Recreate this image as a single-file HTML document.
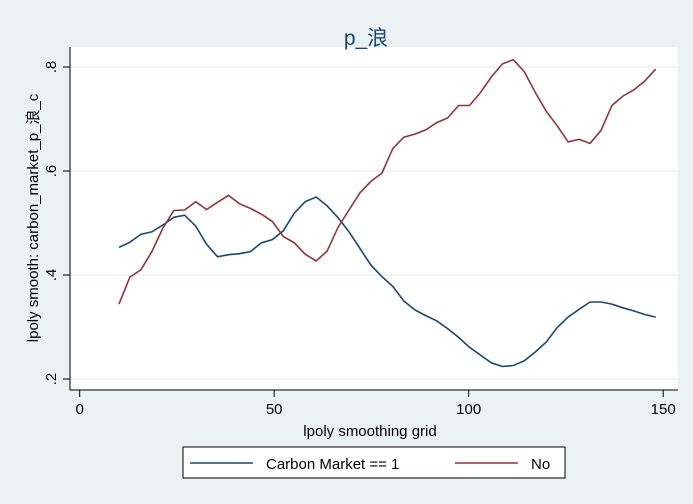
<!DOCTYPE html>
<html><head><meta charset="utf-8"><style>
body{margin:0;background:#eaf2f3;}
svg{display:block;font-family:"Liberation Sans","Noto Sans CJK SC",sans-serif;}
</style></head><body>
<svg width="693" height="504">
<rect x="0" y="0" width="693" height="504" fill="#eaf2f3"/>
<rect x="70" y="47" width="608" height="343" fill="#fff"/>
<g id="grid"></g>
<g id="axes"></g>
<g id="series"></g>
<text x="366" y="45" font-size="21" text-anchor="middle" fill="#1a476f">p_浪</text>
<text x="370" y="436" font-size="15" text-anchor="middle" fill="#000">lpoly smoothing grid</text>
<text transform="translate(38,218) rotate(-90)" font-size="15" text-anchor="middle" fill="#000">lpoly smooth: carbon_market_p_浪_c</text>
<g>
<rect x="183" y="447" width="382" height="31" fill="#fff" stroke="#000" stroke-width="1"/>
<line x1="190" y1="463" x2="253" y2="463" stroke="#1a476f" stroke-width="1.5"/>
<text x="266" y="469" font-size="15">Carbon Market == 1</text>
<line x1="455" y1="463" x2="518" y2="463" stroke="#90353b" stroke-width="1.5"/>
<text x="531" y="469" font-size="15">No</text>
</g>
</svg>
<script>
const xGrid=[];for(let i=0;i<50;i++)xGrid.push(10.1+i*2.816);
const carbonVals=[.453,.463,.478,.483,.496,.511,.515,.494,.459,.435,.439,.441,.445,.462,.468,.485,.519,.541,.550,.533,.510,.483,.451,.419,.397,.378,.350,.333,.322,.312,.297,.280,.261,.246,.231,.224,.226,.235,.252,.271,.299,.319,.334,.348,.348,.344,.337,.331,.324,.319];
const noVals=[.344,.396,.410,.445,.490,.524,.525,.541,.526,.540,.553,.537,.528,.517,.503,.474,.462,.440,.427,.446,.492,.525,.558,.580,.596,.643,.665,.671,.679,.693,.702,.726,.726,.751,.781,.806,.814,.791,.751,.715,.687,.656,.661,.653,.678,.726,.744,.756,.773,.796];
const xTicks=[0,50,100,150];
const yTicks=[.2,.4,.6,.8];
const yTickLabels=[".2",".4",".6",".8"];
const NS="http://www.w3.org/2000/svg";
const sx=v=>79.7+v*3.89;
const sy=v=>379-(v-0.2)*520;
function mk(tag,attrs,parent){const e=document.createElementNS(NS,tag);for(const k in attrs)e.setAttribute(k,attrs[k]);document.getElementById(parent).appendChild(e);return e;}
yTicks.forEach((t,i)=>{
 const g=mk('line',{x1:70,x2:678,y1:sy(t),y2:sy(t),stroke:'#eaf2f3','stroke-width':1.5},'grid');
 
 
 const tk=mk('line',{x1:63,x2:70,y1:sy(t),y2:sy(t),stroke:'#000'},'axes');
 
 
 const tx=mk('text',{transform:`translate(56,${sy(t)}) rotate(-90)`,'font-size':15,'text-anchor':'middle'},'axes');
 tx.textContent=yTickLabels[i];
 
 
});
xTicks.forEach(t=>{
 const tk=mk('line',{x1:sx(t),x2:sx(t),y1:390,y2:397,stroke:'#000'},'axes');
 
 
 const tx=mk('text',{x:sx(t),y:414,'font-size':15,'text-anchor':'middle'},'axes');
 tx.textContent=String(t);
 
 
});
const ax=mk('line',{x1:70,x2:678,y1:390,y2:390,stroke:'#000'},'axes');


const ay=mk('line',{x1:70,x2:70,y1:47,y2:390,stroke:'#000'},'axes');


function line(vals,color,name){
 const d=vals.map((v,i)=>(i?'L':'M')+sx(xGrid[i]).toFixed(1)+','+sy(v).toFixed(1)).join('');
 const p=mk('path',{d:d,fill:'none',stroke:color,'stroke-width':1.6},'series');
 
 
}
line(carbonVals,'#1a476f','carbon-market-line');
line(noVals,'#90353b','no-line');
</script>
</body></html>
